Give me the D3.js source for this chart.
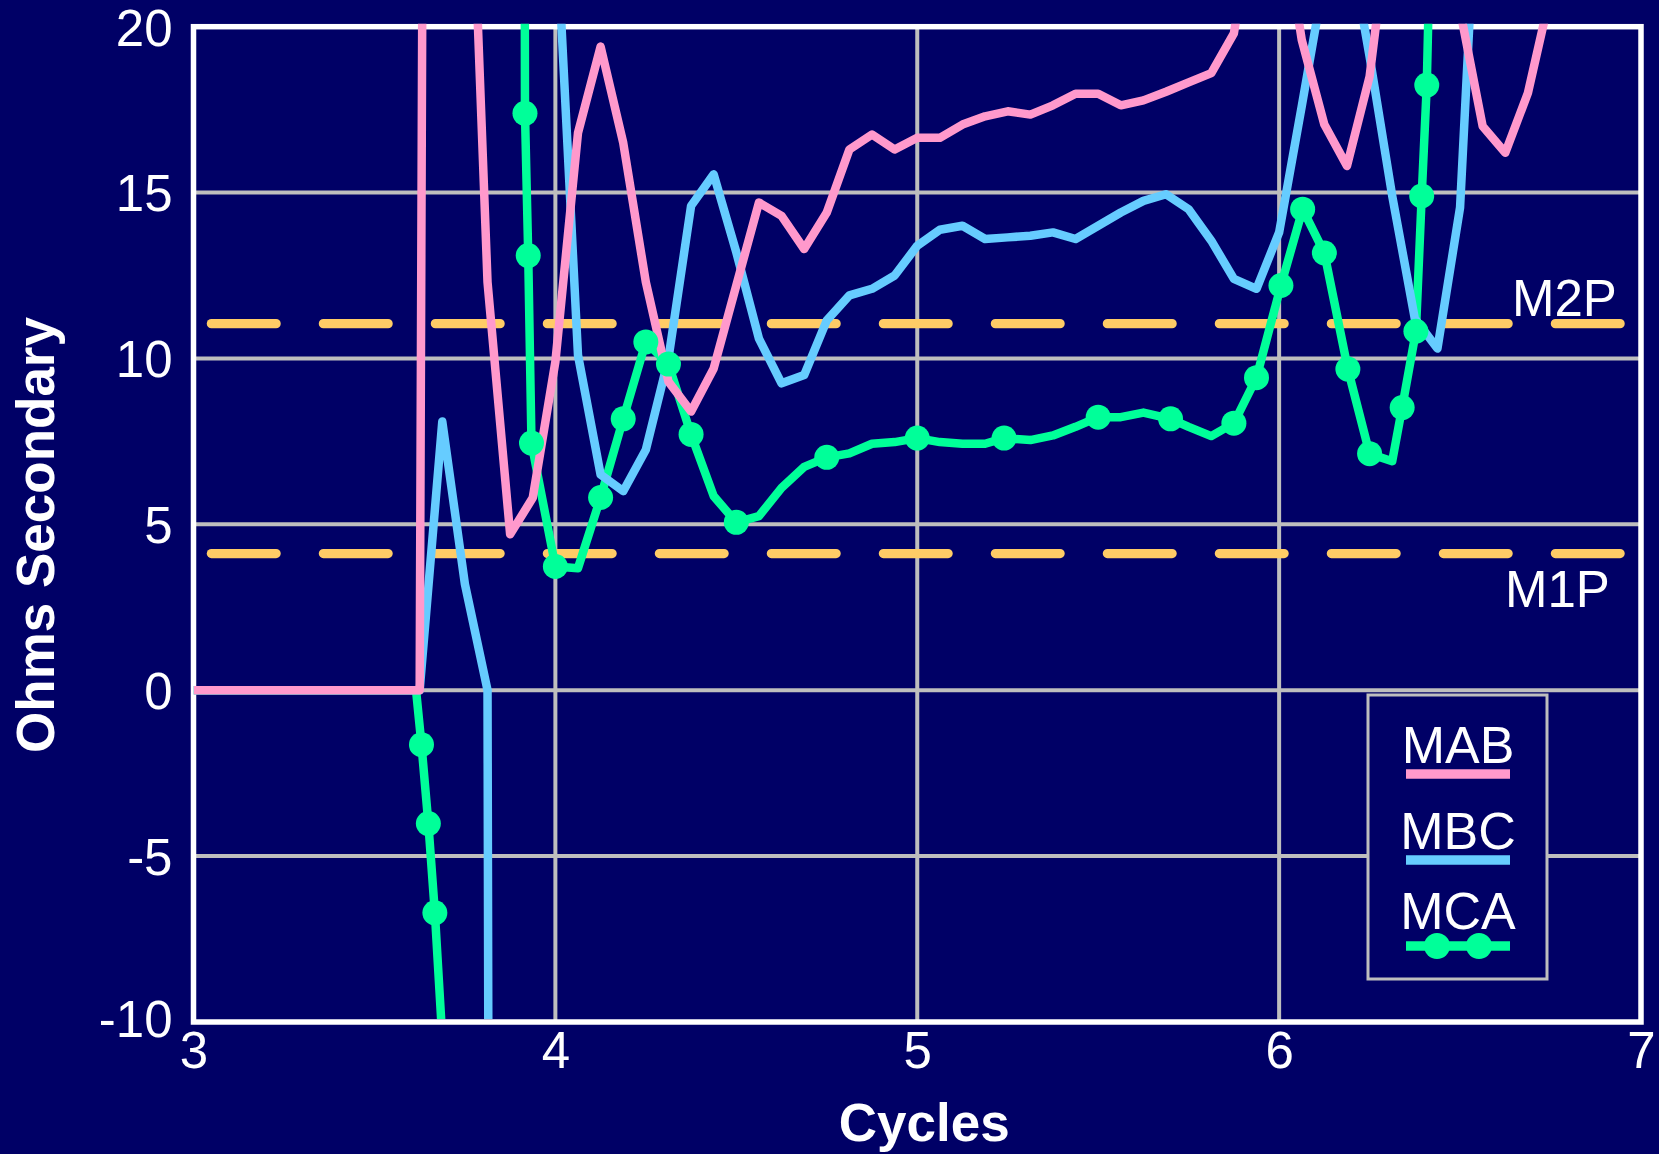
<!DOCTYPE html>
<html>
<head>
<meta charset="utf-8">
<script src="https://cdn.jsdelivr.net/npm/d3@7"></script>
<style>
  html, body { margin: 0; padding: 0; background: #000066; }
  svg { display: block; }
</style>
</head>
<body>
<svg id="chart" width="1659" height="1154"></svg>
<script>
// Sample instants (cycles) shared by the MAB and MBC impedance traces
const cycles = [3, 3.0625, 3.125, 3.1875, 3.25, 3.3125, 3.375, 3.4375, 3.5, 3.5625,
  3.625, 3.6875, 3.75, 3.8125, 3.875, 3.9375, 4, 4.0625, 4.125, 4.1875,
  4.25, 4.3125, 4.375, 4.4375, 4.5, 4.5625, 4.625, 4.6875, 4.75, 4.8125,
  4.875, 4.9375, 5, 5.0625, 5.125, 5.1875, 5.25, 5.3125, 5.375, 5.4375,
  5.5, 5.5625, 5.625, 5.6875, 5.75, 5.8125, 5.875, 5.9375, 6, 6.0625,
  6.125, 6.1875, 6.25, 6.3125, 6.375, 6.4375, 6.5, 6.5625, 6.625, 6.6875, 6.75];

// Ohms secondary
const mab = [0, 0, 0, 0, 0, 0, 0, 0, 0, 0,
  0, 180, 30.5, 12.3, 4.7, 5.8, 9.9, 16.8, 19.4, 16.5,
  12.3, 9.3, 8.4, 9.7, 12.2, 14.7, 14.3, 13.3, 14.4, 16.3,
  16.75, 16.3, 16.65, 16.65, 17.05, 17.3, 17.45, 17.35, 17.63, 17.98,
  17.98, 17.63, 17.78, 18.04, 18.32, 18.6, 19.8, 24, 24, 19.6,
  17.05, 15.8, 18.5, 24, 28, 28, 20.5, 17.0, 16.2, 18.0, 21];

const mbc = [0, 0, 0, 0, 0, 0, 0, 0, 0, 0,
  0, 8.1, 3.2, 0, -300, null, 23.7, 10.1, 6.5, 6.0,
  7.25, 10.0, 14.6, 15.55, 13.2, 10.6, 9.25, 9.5, 11.15, 11.9,
  12.1, 12.5, 13.4, 13.88, 14.0, 13.6, 13.65, 13.7, 13.8, 13.6,
  14.0, 14.4, 14.75, 14.95, 14.5, 13.55, 12.4, 12.1, 13.8, 17.6,
  21.5, 23, 19.1, 14.9, 11.2, 10.3, 14.55, 28, null, null, null];

// MCA has its own sample instants
const mcaCycles = [3, 3.615, 3.63, 3.649, 3.667, 3.6875, 3.8, 3.913, 3.916, 3.925,
  3.934, 4, 4.0625, 4.125, 4.1875, 4.25, 4.3125, 4.375, 4.4375, 4.5,
  4.5625, 4.625, 4.6875, 4.75, 4.8125, 4.875, 4.9375, 5, 5.0625, 5.125,
  5.1875, 5.24, 5.3125, 5.375, 5.4375, 5.5, 5.5625, 5.625, 5.7, 5.75,
  5.8125, 5.875, 5.9375, 6.005, 6.065, 6.125, 6.19, 6.25, 6.3125, 6.34,
  6.378, 6.394, 6.408, 6.42];
const mca = [0, 0, -1.64, -4.02, -6.71, -10.5, null, 40, 17.39, 13.1,
  7.45, 3.73, 3.68, 5.81, 8.18, 10.5, 9.83, 7.71, 5.85, 5.06,
  5.25, 6.1, 6.73, 7.02, 7.14, 7.43, 7.48, 7.6, 7.48, 7.43,
  7.43, 7.6, 7.54, 7.68, 7.94, 8.23, 8.23, 8.37, 8.18, 7.94,
  7.66, 8.05, 9.42, 12.2, 14.5, 13.18, 9.68, 7.13, 6.9, 8.52,
  10.82, 14.9, 18.24, 24];
// Samples that carry a symbol on the MCA trace
const mcaMarkerIdx = [2, 3, 4, 8, 9, 10, 11, 13, 14, 15, 16, 17, 19, 23, 27, 31, 35, 38,
  41, 42, 43, 44, 45, 46, 47, 49, 50, 51, 52];

// Mho zone reaches
const zoneNames = ["M2P", "M1P"];
const zoneReach = [11.05, 4.12];

const xTicks = [3, 4, 5, 6, 7];
const yTicks = [-10, -5, 0, 5, 10, 15, 20];

const seriesNames = ["MAB", "MBC", "MCA"];
const colors = { MAB: "#FF99CC", MBC: "#66CCFF", MCA: "#00FF99" };
const bg = "#000066";
const gridColor = "#BEBEBE";
const zoneColor = "#FFCC66";
const font = "'Liberation Sans', Arial, Helvetica, sans-serif";

const W = 1659, H = 1154;
const margin = { top: 26.7, right: 18, bottom: 132, left: 193.5 };
const x = d3.scaleLinear().domain([3, 7]).range([margin.left, W - margin.right]);
const y = d3.scaleLinear().domain([-10, 20]).range([H - margin.bottom, margin.top]);

const svg = d3.select("#chart");
svg.append("rect").attr("width", W).attr("height", H).attr("fill", bg);

const x0 = x.range()[0], x1 = x.range()[1];
const yTop = y.range()[1], yBot = y.range()[0];

// grid
const grid = svg.append("g");
grid.selectAll("line.h").data(yTicks.filter(v => v > -10 && v < 20)).join("line")
  .attr("x1", x0).attr("x2", x1).attr("y1", d => y(d)).attr("y2", d => y(d))
  .attr("stroke", gridColor).attr("stroke-width", 4);
grid.selectAll("line.v").data(xTicks.filter(v => v > 3 && v < 7)).join("line")
  .attr("x1", d => x(d)).attr("x2", d => x(d)).attr("y1", yTop).attr("y2", yBot)
  .attr("stroke", gridColor).attr("stroke-width", 4);

// frame
svg.append("rect")
  .attr("x", x0).attr("y", yTop).attr("width", x1 - x0).attr("height", yBot - yTop)
  .attr("fill", "none").attr("stroke", "#FFFFFF").attr("stroke-width", 5.5);

// axes (labels only; the frame carries the lines)
const plain = d => String(d);
const xAxis = d3.axisBottom(x).tickValues(xTicks).tickSize(0).tickPadding(0).tickFormat(plain);
const gx = svg.append("g").attr("transform", `translate(0,${yBot})`).call(xAxis);
gx.select(".domain").remove();
gx.selectAll("text").attr("fill", "#FFFFFF").attr("font-family", font).attr("font-size", 51)
  .attr("dy", null).attr("y", 46);

const yAxis = d3.axisLeft(y).tickValues(yTicks).tickSize(0).tickPadding(0).tickFormat(plain);
const gy = svg.append("g").attr("transform", `translate(${x0},0)`).call(yAxis);
gy.select(".domain").remove();
gy.selectAll("text").attr("fill", "#FFFFFF").attr("font-family", font).attr("font-size", 51)
  .attr("x", -21).attr("dy", d => d === -10 ? "0.28em" : "0.36em");

svg.append("text").attr("x", (x0 + x1) / 2 + 7).attr("y", 1141)
  .attr("text-anchor", "middle").attr("fill", "#FFFFFF").attr("font-family", font)
  .attr("font-weight", "bold").attr("font-size", 53).text("Cycles");
svg.append("text").attr("transform", "translate(54,535) rotate(-90)")
  .attr("text-anchor", "middle").attr("fill", "#FFFFFF").attr("font-family", font)
  .attr("font-weight", "bold").attr("font-size", 53).text("Ohms Secondary");

// plotting area clip
svg.append("defs").append("clipPath").attr("id", "plotClip")
  .append("rect").attr("x", x0).attr("y", yTop - 3).attr("width", x1 - x0).attr("height", yBot - yTop);
const plot = svg.append("g").attr("clip-path", "url(#plotClip)");

// zone reach lines
plot.selectAll("line.zone").data(zoneReach).join("line")
  .attr("x1", x0).attr("x2", x1).attr("y1", d => y(d)).attr("y2", d => y(d))
  .attr("stroke", zoneColor).attr("stroke-width", 9.3).attr("stroke-linecap", "round")
  .attr("stroke-dasharray", "64.7,47.3").attr("stroke-dashoffset", 94.1);

svg.append("text").attr("x", 1512).attr("y", y(zoneReach[0]) - 8)
  .attr("fill", "#FFFFFF").attr("font-family", font).attr("font-size", 51).text(zoneNames[0]);
svg.append("text").attr("x", 1505).attr("y", y(zoneReach[1]) + 53)
  .attr("fill", "#FFFFFF").attr("font-family", font).attr("font-size", 51).text(zoneNames[1]);

// traces
const line = d3.line().defined(d => d[1] !== null).x(d => x(d[0])).y(d => y(d[1]));
const pts = (xs, ys) => xs.map((c, i) => [c, ys[i]]);
const mcaPts = pts(mcaCycles, mca);
const traces = [
  { name: "MCA", data: mcaPts },
  { name: "MBC", data: pts(cycles, mbc) },
  { name: "MAB", data: pts(cycles, mab) }
];
plot.selectAll("path.trace").data(traces).join("path")
  .attr("class", "trace")
  .attr("d", d => line(d.data))
  .attr("fill", "none").attr("stroke", d => colors[d.name])
  .attr("stroke-width", 8.5).attr("stroke-linejoin", "round");

plot.selectAll("circle.mk").data(mcaMarkerIdx.map(i => mcaPts[i])).join("circle")
  .attr("cx", d => x(d[0])).attr("cy", d => y(d[1])).attr("r", 12.5)
  .attr("fill", colors.MCA);

// legend
const lg = svg.append("g");
lg.append("rect").attr("x", 1368).attr("y", 695).attr("width", 179).attr("height", 284)
  .attr("fill", bg).attr("stroke", gridColor).attr("stroke-width", 3);
const legendY = [763, 849, 929];
const swatchDy = [11, 11, 17];
seriesNames.forEach((n, i) => {
  lg.append("text").attr("x", 1458).attr("y", legendY[i]).attr("text-anchor", "middle")
    .attr("fill", "#FFFFFF").attr("font-family", font).attr("font-size", 52).text(n);
  lg.append("line").attr("x1", 1406).attr("x2", 1510)
    .attr("y1", legendY[i] + swatchDy[i]).attr("y2", legendY[i] + swatchDy[i])
    .attr("stroke", colors[n]).attr("stroke-width", 9.3);
  if (n === "MCA") {
    [1437, 1479].forEach(cx => lg.append("circle").attr("cx", cx).attr("cy", legendY[i] + swatchDy[i])
      .attr("r", 13).attr("fill", colors[n]));
  }
});
</script>
</body>
</html>
